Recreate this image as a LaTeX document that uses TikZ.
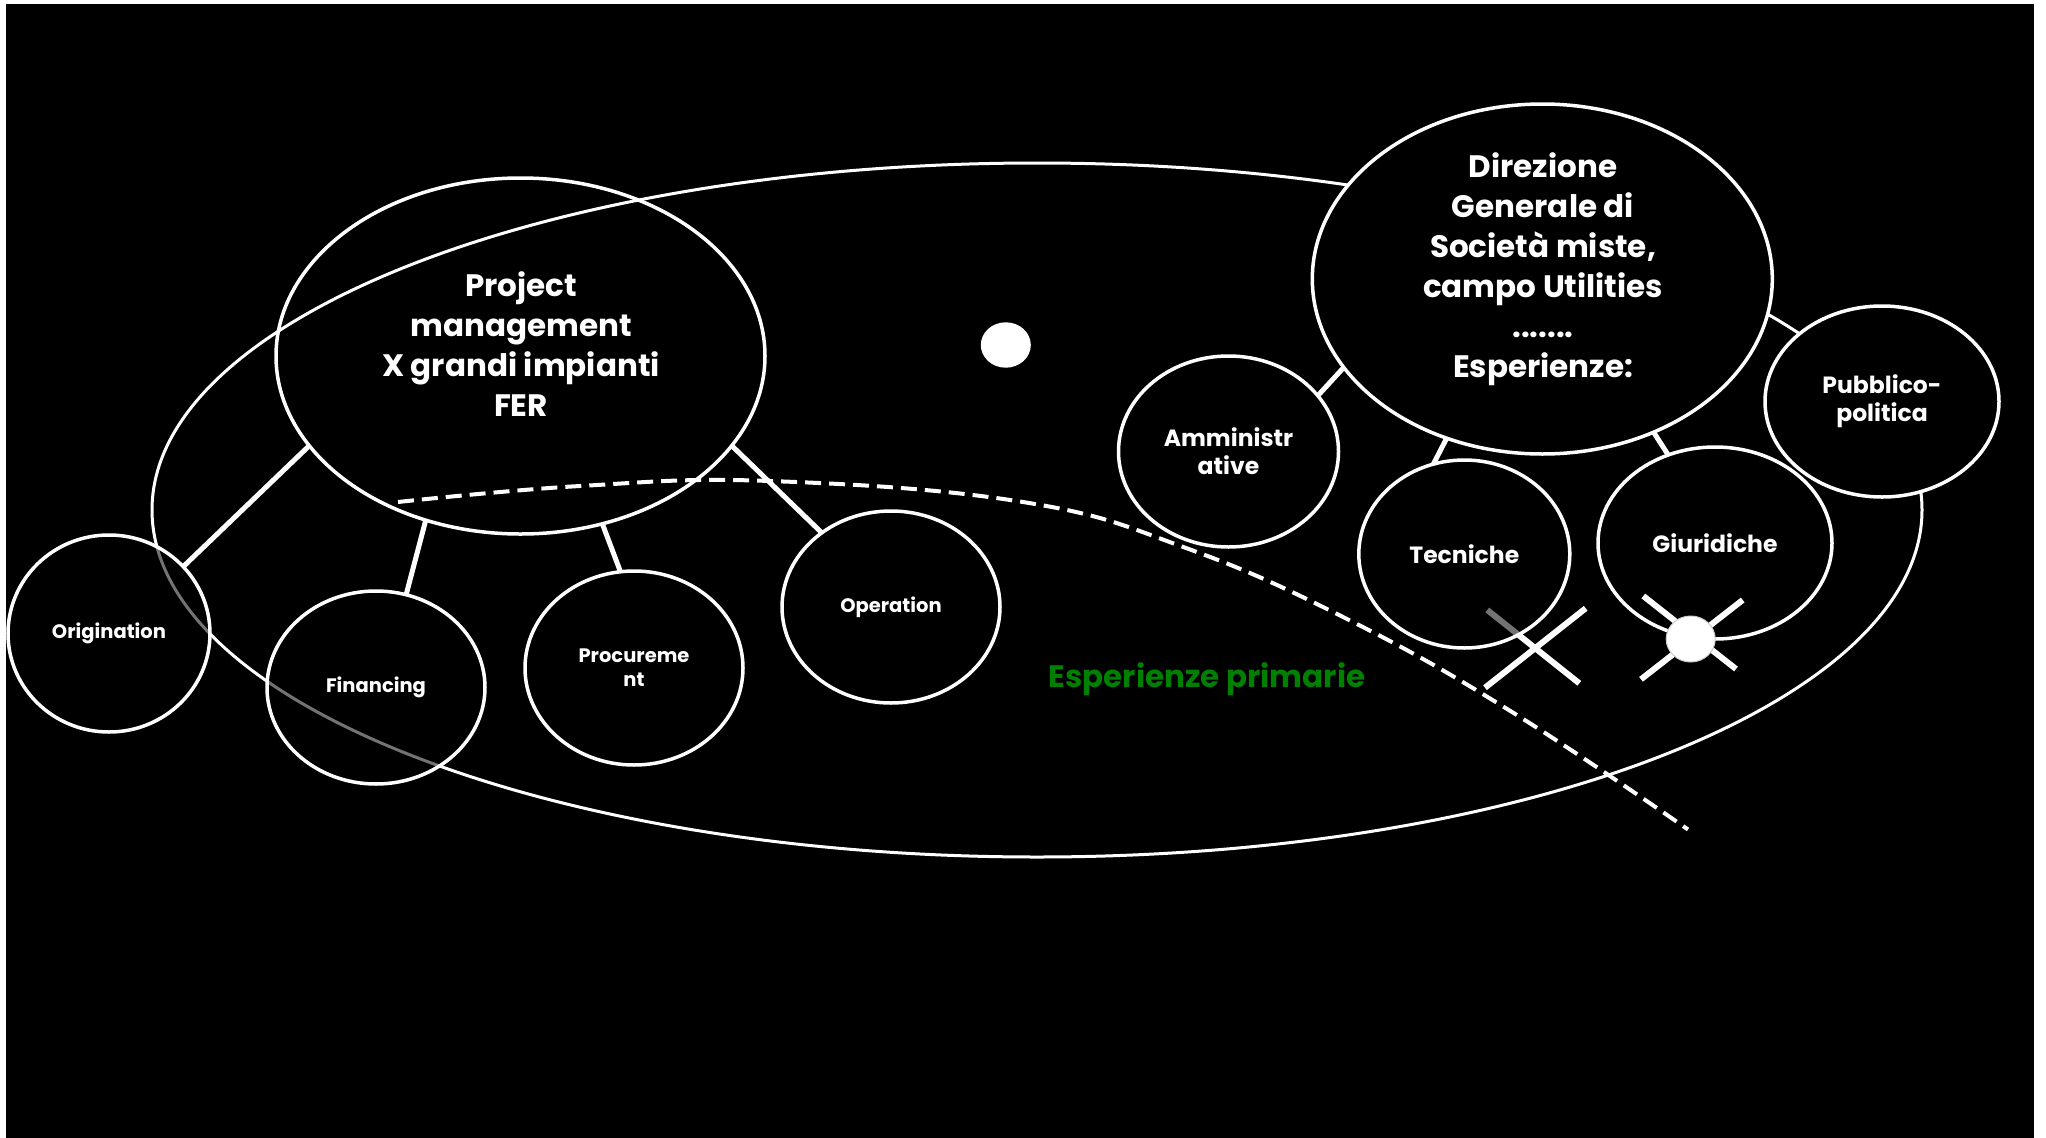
\documentclass[tikz,border=0pt]{standalone}
\usepackage{fontspec}
\setmainfont{Poppins}
\usetikzlibrary{shapes.geometric}
\begin{document}
\begin{tikzpicture}[x=1pt,y=-1pt,
  bubble/.style={ellipse, draw=white, line width=3.5pt, fill=black, fill opacity=0.55, text opacity=1, text=white, align=center, inner sep=0pt, outer sep=0pt},
  solidbubble/.style={bubble, fill opacity=1},
  smalltxt/.style={font=\bfseries\fontsize{19.5}{24}\selectfont},
  righttxt/.style={font=\bfseries\fontsize{23.5}{28}\selectfont},
  bigell/.style={ellipse, draw=white, line width=3.5pt, inner sep=0pt, outer sep=0pt},
  bigtxt/.style={text=white, align=center, font=\bfseries\fontsize{31}{40}\selectfont, inner sep=0pt},
  conn/.style={draw=white, line width=5pt},
  xmark/.style={draw=white, line width=6pt}
]
\useasboundingbox (0,0) rectangle (2046,1138);
\fill[white] (0,0) rectangle (2046,1138);
\fill[black] (6,4) rectangle (2034,1138);
% big frame ellipse
\draw[white, line width=3pt] (1037,510) ellipse [x radius=885pt, y radius=347pt];
% dashed boundary
\draw[white, line width=4pt, dash pattern=on 16pt off 8pt] plot[smooth, tension=0.7] coordinates {(398,502) (580,486) (770,481) (1023,502) (1186,548) (1349,620) (1512,712) (1688,829.5)};
% cross near Tecniche
\draw[xmark] (1485,687.7) -- (1585.7,608.3);
\draw[xmark] (1487.3,610) -- (1579.3,683.3);
% white dot
\fill[white] (1005.8,345) ellipse [x radius=25pt, y radius=22.7pt];
% main ellipses
\node[bigell, minimum width=489pt, minimum height=356pt] (proj) at (520.5,356) {};
\node[bigtxt] (projtxt) at (521,344) {Project\\management\\X grandi impianti\\FER};
\node[bigell, fill=black, minimum width=460pt, minimum height=350pt] (dir) at (1542.3,279) {};
\node[bigtxt] (dirtxt) at (1543,269) {Direzione\\Generale di\\Società miste,\\campo Utilities\\.......\\Esperienze:};
% small bubbles
\node[bubble, smalltxt, minimum width=202pt, minimum height=197pt] (orig) at (109,633.5) {Origination};
\node[bubble, smalltxt, minimum width=218pt, minimum height=193pt] (fin) at (376,687.5) {Financing};
\node[bubble, smalltxt, minimum width=218pt, minimum height=194pt] (proc) at (634,668) {Procureme\\nt};
\node[bubble, smalltxt, minimum width=218pt, minimum height=192pt] (op) at (891,607) {Operation};
\node[bubble, righttxt, minimum width=220pt, minimum height=191pt] (amm) at (1228.5,451.5) {Amministr\\ative};
\node[bubble, righttxt, minimum width=211pt, minimum height=188pt] (tec) at (1464.3,554) {Tecniche};
\node[solidbubble, righttxt, minimum width=234pt, minimum height=192pt] (giu) at (1715,543) {Giuridiche};
\node[solidbubble, righttxt, minimum width=234pt, minimum height=191pt] (pub) at (1882,401.5) {Pubblico-\\politica};
% connectors
\draw[conn] (proj.203.2) -- (orig.42.6);
\draw[conn] (proj.240.6) -- (fin.72.9);
\draw[conn] (proj.296) -- (proc.98.2);
\draw[conn] (proj.337) -- (op.133.6);
\draw[conn] (dir.204.1) -- (amm.32.6);
\draw[conn] (dir.239.7) -- (tec.109);
\draw[conn] (dir.306.6) -- (giu.118.4);
% cross near Giuridiche
\draw[xmark] (1641,679.3) -- (1742.7,600);
\draw[xmark] (1643.3,596) -- (1736,669);
\fill[white] (1690.7,639) ellipse [x radius=24.5pt, y radius=23pt];
\draw[black!20, line width=1pt] (1690.7,639) ellipse [x radius=24.5pt, y radius=23pt];
% label
\node[text=green!50!black, font=\bfseries\fontsize{31}{36}\selectfont] (prim) at (1207,679) {Esperienze primarie};
\end{tikzpicture}
\end{document}
